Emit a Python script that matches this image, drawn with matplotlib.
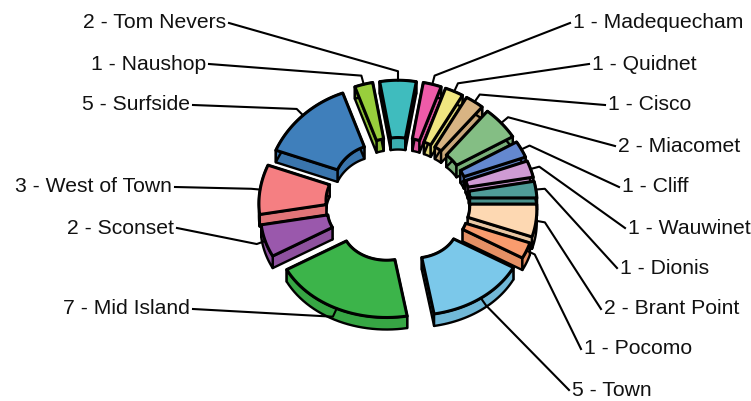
import numpy as np
import matplotlib
matplotlib.use("Agg")
import matplotlib.pyplot as plt
from matplotlib.colors import to_rgb

plt.rcParams['font.family'] = ['Liberation Sans', 'DejaVu Sans']

names = ["Madequecham", "Quidnet", "Cisco", "Miacomet", "Cliff", "Wauwinet", "Dionis", "Brant Point",
         "Pocomo", "Town", "Mid Island", "Sconset", "West of Town", "Surfside", "Naushop", "Tom Nevers"]
counts = [1, 1, 1, 2, 1, 1, 1, 2, 1, 5, 7, 2, 3, 5, 1, 2]
colors = ["#EE5BA8", "#F0E680", "#D8B483", "#84BE84", "#6488CF", "#CF9BD4", "#4F9C98", "#FDD8B2",
          "#F99C6E", "#7BC8EA", "#3CB44A", "#9A58AC", "#F57F82", "#3F7FBB", "#98CE3C", "#3FBCBE"]

# label layout in pixels: x of the text edge, y centre
label_x = [573, 592, 608, 618, 622, 628, 620, 604, 584, 572, 190, 174, 172, 190, 206, 226]
label_y = [23, 64, 105, 146, 187, 228, 268, 309, 349, 390, 309, 228, 187, 105, 64, 23]

START = 10.0
CX, CY = 398, 200
R_OUT, R_IN = 112, 45
SQUASH = 0.855
EXPLODE_X, EXPLODE_Y = 27, 24
DEPTH = 12


def project(r, theta, mid):
    t = np.radians(theta)
    m = np.radians(mid)
    persp = 1 - 0.06 * np.cos(t)
    x = CX + persp * r * np.sin(t) + EXPLODE_X * np.sin(m)
    y = CY - SQUASH * r * np.cos(t) - EXPLODE_Y * np.cos(m)
    return np.column_stack([x, y])


def wall(ax, edge, color):
    low = edge + np.array([0, DEPTH])
    poly = np.vstack([edge, low[::-1]])
    ax.fill(poly[:, 0], poly[:, 1], facecolor=color, edgecolor="black", lw=1.7, joinstyle="round")


fig = plt.figure(figsize=(7.51, 4.01), dpi=100)
ax = fig.add_axes([0, 0, 1, 1])
ax.set_xlim(0, 751)
ax.set_ylim(401, 0)
ax.axis("off")

edges = START + np.concatenate([[0], np.cumsum(counts)]) * 360.0 / sum(counts)
mids = (edges[:-1] + edges[1:]) / 2

# far slices first
order = np.argsort(-np.cos(np.radians(mids)))
for i in order:
    ang = np.linspace(edges[i], edges[i + 1], 30)
    outer = project(R_OUT, ang, mids[i])
    inner = project(R_IN, ang, mids[i])
    shade = tuple(0.92 * c for c in to_rgb(colors[i]))
    wall(ax, inner, shade)
    wall(ax, np.vstack([outer[0], inner[0]]), shade)
    wall(ax, np.vstack([outer[-1], inner[-1]]), shade)
    wall(ax, outer, shade)
    top = np.vstack([outer, inner[::-1]])
    ax.fill(top[:, 0], top[:, 1], facecolor=colors[i], edgecolor="black", lw=2.2, joinstyle="round")

for i in range(len(names)):
    right_side = np.sin(np.radians(mids[i])) > 0
    tip = project(R_OUT, np.array([mids[i]]), mids[i])[0]
    u = np.array([np.sin(np.radians(mids[i])), -np.cos(np.radians(mids[i]))])
    elbow = tip + 9 * u
    gap = -3 if right_side else 3
    ax.plot([tip[0], elbow[0], label_x[i] + gap], [tip[1], elbow[1], label_y[i]],
            color="black", lw=1.5, solid_joinstyle="round", zorder=5)
    ax.text(label_x[i], label_y[i], f"{counts[i]} - {names[i]}", fontsize=15.2,
            ha="left" if right_side else "right", va="center", color="#111111")

fig.savefig("out.png", dpi=100)
